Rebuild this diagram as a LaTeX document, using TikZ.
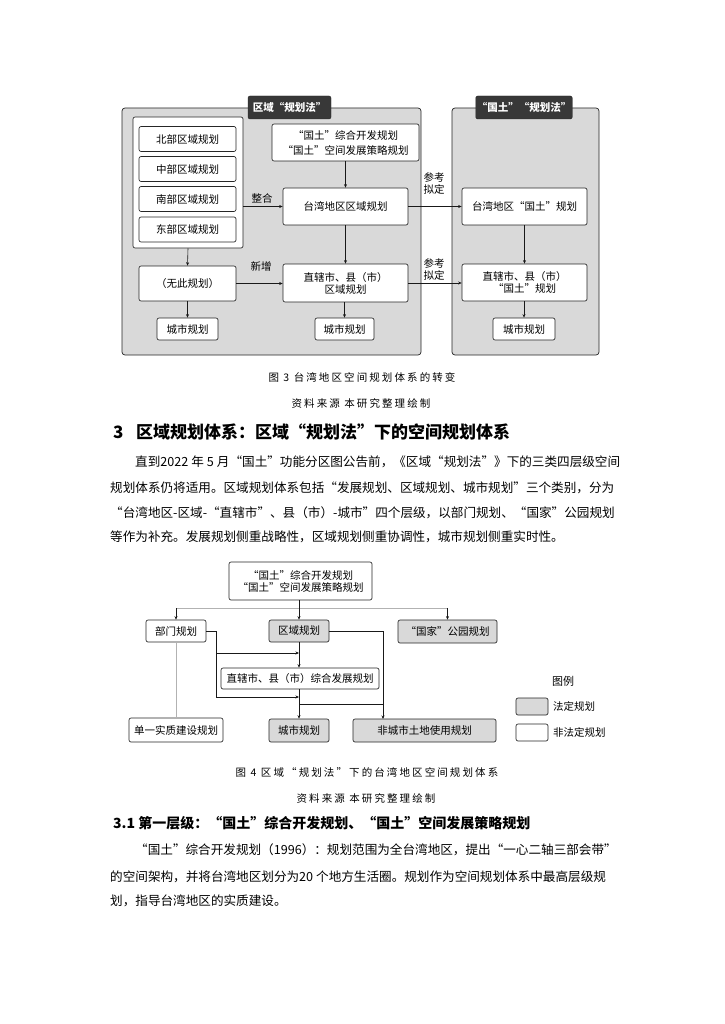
\documentclass[tikz,border=0pt]{standalone}
\usepackage{fontspec}
\setmainfont{Noto Sans CJK SC}
\newfontfamily\capff[LetterSpace=20]{Noto Sans CJK SC}
\usetikzlibrary{arrows.meta,calc}
\XeTeXlinebreaklocale "zh"
\XeTeXlinebreakskip=0pt plus 1pt
\newcommand\fbx{\fontsize{10.5}{12}\selectfont}
\newcommand\fbxb{\fontsize{10.5}{15}\selectfont}
\newcommand\fbody{\fontsize{12.6}{15}\selectfont}
\newcommand\fcap{\capff\fontsize{10.5}{13}\selectfont}
\newcommand\fhA{\fontsize{17}{19}\selectfont\bfseries}
\newcommand\fhB{\fontsize{14}{17}\selectfont\bfseries}
\tikzset{
  box/.style={draw=black!85, line width=0.65pt, rounded corners=2pt, fill=white, inner sep=1pt, align=center, font=\fbx},
  gbox/.style={box, fill=gray!30},
  panel/.style={draw=black!85, line width=0.7pt, rounded corners=3pt, fill=gray!30, inner sep=0pt},
  tab/.style={draw=black!85, fill=black!78, rounded corners=2pt, text=white, font=\fbx\bfseries, inner sep=1pt},
  arr/.style={draw=black!90, line width=0.6pt, -{Stealth[length=3.5pt,width=3pt]}},
  ln/.style={draw=black!90, line width=0.6pt},
  gln/.style={draw=black!30, line width=1pt},
  lbl/.style={font=\fbx, inner sep=0pt, align=center},
  txt/.style={inner sep=0pt, anchor=west},
}
\begin{document}
\begin{tikzpicture}[x=1pt,y=-1pt]
\useasboundingbox[fill=white] (0,0) rectangle (724,1024);
% ---------------- Figure 3 ----------------
\node[panel, minimum width=299pt, minimum height=247pt] (pL) at (271.5,231.5) {};
\node[panel, minimum width=147pt, minimum height=247pt] (pR) at (525.5,231.5) {};
\node[tab, minimum width=83pt, minimum height=23pt] (tabL) at (289.5,107.5) {区域“规划法”};
\node[tab, minimum width=90pt, minimum height=23pt] (tabR) at (524,107.5) {“国土”“规划法”};
\node[box, minimum width=110pt, minimum height=131pt] (inner) at (188,182.5) {};
\node[box, minimum width=97pt, minimum height=25pt] (b1) at (187.5,139) {北部区域规划};
\node[box, minimum width=97pt, minimum height=25pt] (b2) at (187.5,169) {中部区域规划};
\node[box, minimum width=97pt, minimum height=25pt] (b3) at (187.5,199) {南部区域规划};
\node[box, minimum width=97pt, minimum height=25pt] (b4) at (187.5,229.5) {东部区域规划};
\node[box, font=\fbxb, minimum width=147pt, minimum height=37pt] (gt) at (345.5,142.5) {“国土”综合开发规划\\“国土”空间发展策略规划};
\node[box, minimum width=125pt, minimum height=37pt] (tw) at (345.5,206.5) {台湾地区区域规划};
\node[box, minimum width=97pt, minimum height=35pt] (wu) at (187.5,283.5) {（无此规划）};
\node[box, minimum width=125pt, minimum height=38pt] (zx) at (345.5,283) {直辖市、县（市）\\区域规划};
\node[box, minimum width=61pt, minimum height=22pt] (cs1) at (187.5,329) {城市规划};
\node[box, minimum width=59pt, minimum height=22pt] (cs2) at (344.5,329) {城市规划};
\node[box, minimum width=125pt, minimum height=37pt] (rtw) at (524.5,206.5) {台湾地区“国土”规划};
\node[box, minimum width=125pt, minimum height=37pt] (rzx) at (524.5,282.5) {直辖市、县（市）\\“国土”规划};
\node[box, minimum width=62pt, minimum height=22pt] (rcs) at (524,329) {城市规划};
\draw[arr] (gt.south) -- (tw.north);
\draw[arr] (tw.south) -- (zx.north);
\draw[arr] (zx.south -| cs2.north) -- (cs2.north);
\draw[arr] (inner.south) -- (wu.north);
\draw[arr] (wu.south) -- (cs1.north);
\draw[arr] (tw.west -| inner.east) -- (tw.west);
\draw[arr] (wu.east) -- (wu.east -| zx.west);
\draw[arr] (tw.east) -- (tw.east -| rtw.west);
\draw[arr] (zx.east) -- (zx.east -| rzx.west);
\draw[arr] (rtw.south) -- (rzx.north);
\draw[arr] (rzx.south -| rcs.north) -- (rcs.north);
\node[lbl] (lzh) at (262,198) {整合};
\node[lbl] (lxz) at (261,266) {新增};
\node[lbl] (lck1) at (434,184) {参考\\拟定};
\node[lbl] (lck2) at (434,269) {参考\\拟定};
% captions
\node[inner sep=0pt, font=\fcap] (c3a) at (362,377) {图 3\ 台湾地区空间规划体系的转变};
\node[inner sep=0pt, font=\fcap] (c3b) at (361,403) {资料来源\ 本研究整理绘制};
% heading 3
\node[txt, font=\fhA] (h3n) at (113,432) {3};
\node[txt, font=\fhA] (h3t) at (136,432) {区域规划体系：区域“规划法”下的空间规划体系};
% paragraph 1
\node[txt] (p1a) at (135,462) {\fbody\makebox[480pt][s]{直到2022\kern3pt 年\kern3pt 5\kern3pt 月“国土”功能分区图公告前，《区域“规划法”》下的三类四层级空间}};
\node[txt] (p1b) at (110,488) {\fbody\makebox[505pt][s]{规划体系仍将适用。区域规划体系包括“发展规划、区域规划、城市规划”三个类别，分为}};
\node[txt] (p1c) at (110,513) {\fbody\makebox[505pt][s]{“台湾地区-区域-“直辖市”、县（市）-城市”四个层级，以部门规划、“国家”公园规划}};
\node[txt] (p1d) at (110,537) {\fbody 等作为补充。发展规划侧重战略性，区域规划侧重协调性，城市规划侧重实时性。};
% ---------------- Figure 4 ----------------
\node[box, minimum width=143pt, minimum height=38pt] (top4) at (300.5,581) {“国土”综合开发规划\\“国土”空间发展策略规划};
\node[box, minimum width=60pt, minimum height=22pt] (bm) at (176,631) {部门规划};
\node[gbox, minimum width=60pt, minimum height=22pt] (qy) at (299,631) {区域规划};
\node[gbox, minimum width=99pt, minimum height=23pt] (gj) at (447.5,631.5) {“国家”公园规划};
\node[box, minimum width=158pt, minimum height=21pt] (zx4) at (300,678.5) {直辖市、县（市）综合发展规划};
\node[box, minimum width=94pt, minimum height=24pt] (dy) at (176,730) {单一实质建设规划};
\node[gbox, minimum width=60pt, minimum height=23pt] (cs4) at (299,730.5) {城市规划};
\node[gbox, minimum width=143pt, minimum height=23pt] (fc) at (424.5,730.5) {非城市土地使用规划};
\coordinate (g1) at (176,608);
\coordinate (g2) at (447.5,608);
\coordinate (j0) at (216,631);
\coordinate (j1) at (216,653);
\coordinate (j2) at (216,697);
\coordinate (j3) at (299,704);
\coordinate (k0) at (383,631);
\coordinate (k1) at (383,704);
\coordinate (k2) at (383,719);
\draw[gln] (g1) -- (g2);
\draw[arr] (g1) -- (bm.north);
\draw[arr] (g2) -- (gj.north);
\draw[arr] (qy.north |- top4.south) -- (qy.north);
\draw[ln] (bm.east) -- (j0) -- (j2);
\draw[arr] (j1) -- (j1 -| qy.south);
\draw[arr] (j2) -- (j2 -| qy.south);
\draw[arr] (qy.south) -- (qy.south |- zx4.north);
\draw[arr] (cs4.north |- zx4.south) -- (cs4.north);
\draw[ln] (j3) -- (k1);
\draw[arr] (qy.east) -- (k0) -- (k2);
\draw[gln, line width=0.8pt] (bm.south) -- (dy.north);
% legend
\node[lbl, font=\fontsize{11}{13}\selectfont] (lgt) at (563,681) {图例};
\node[gbox, minimum width=32pt, minimum height=17pt] (lg1) at (532,706.5) {};
\node[box, minimum width=32pt, minimum height=17pt] (lg2) at (532,732.5) {};
\node[txt, font=\fbx] (lg1t) at (553,706.5) {法定规划};
\node[txt, font=\fbx] (lg2t) at (553,732.5) {非法定规划};
% captions
\node[inner sep=0pt, font=\fcap] (c4a) at (367,772) {图 4\ 区域“规划法”下的台湾地区空间规划体系};
\node[inner sep=0pt, font=\fcap] (c4b) at (366,798) {资料来源\ 本研究整理绘制};
% heading 3.1
\node[txt, font=\fhB] (h31) at (113,823) {3.1 第一层级：“国土”综合开发规划、“国土”空间发展策略规划};
% paragraph 2
\node[txt] (p2a) at (135,850) {\fbody\makebox[480pt][s]{“国土”综合开发规划（1996）：规划范围为全台湾地区，提出“一心二轴三部会带”}};
\node[txt] (p2b) at (110,877) {\fbody\makebox[505pt][s]{的空间架构，并将台湾地区划分为20\kern3pt 个地方生活圈。规划作为空间规划体系中最高层级规}};
\node[txt] (p2c) at (110,901) {\fbody 划，指导台湾地区的实质建设。};
\end{tikzpicture}
\end{document}
